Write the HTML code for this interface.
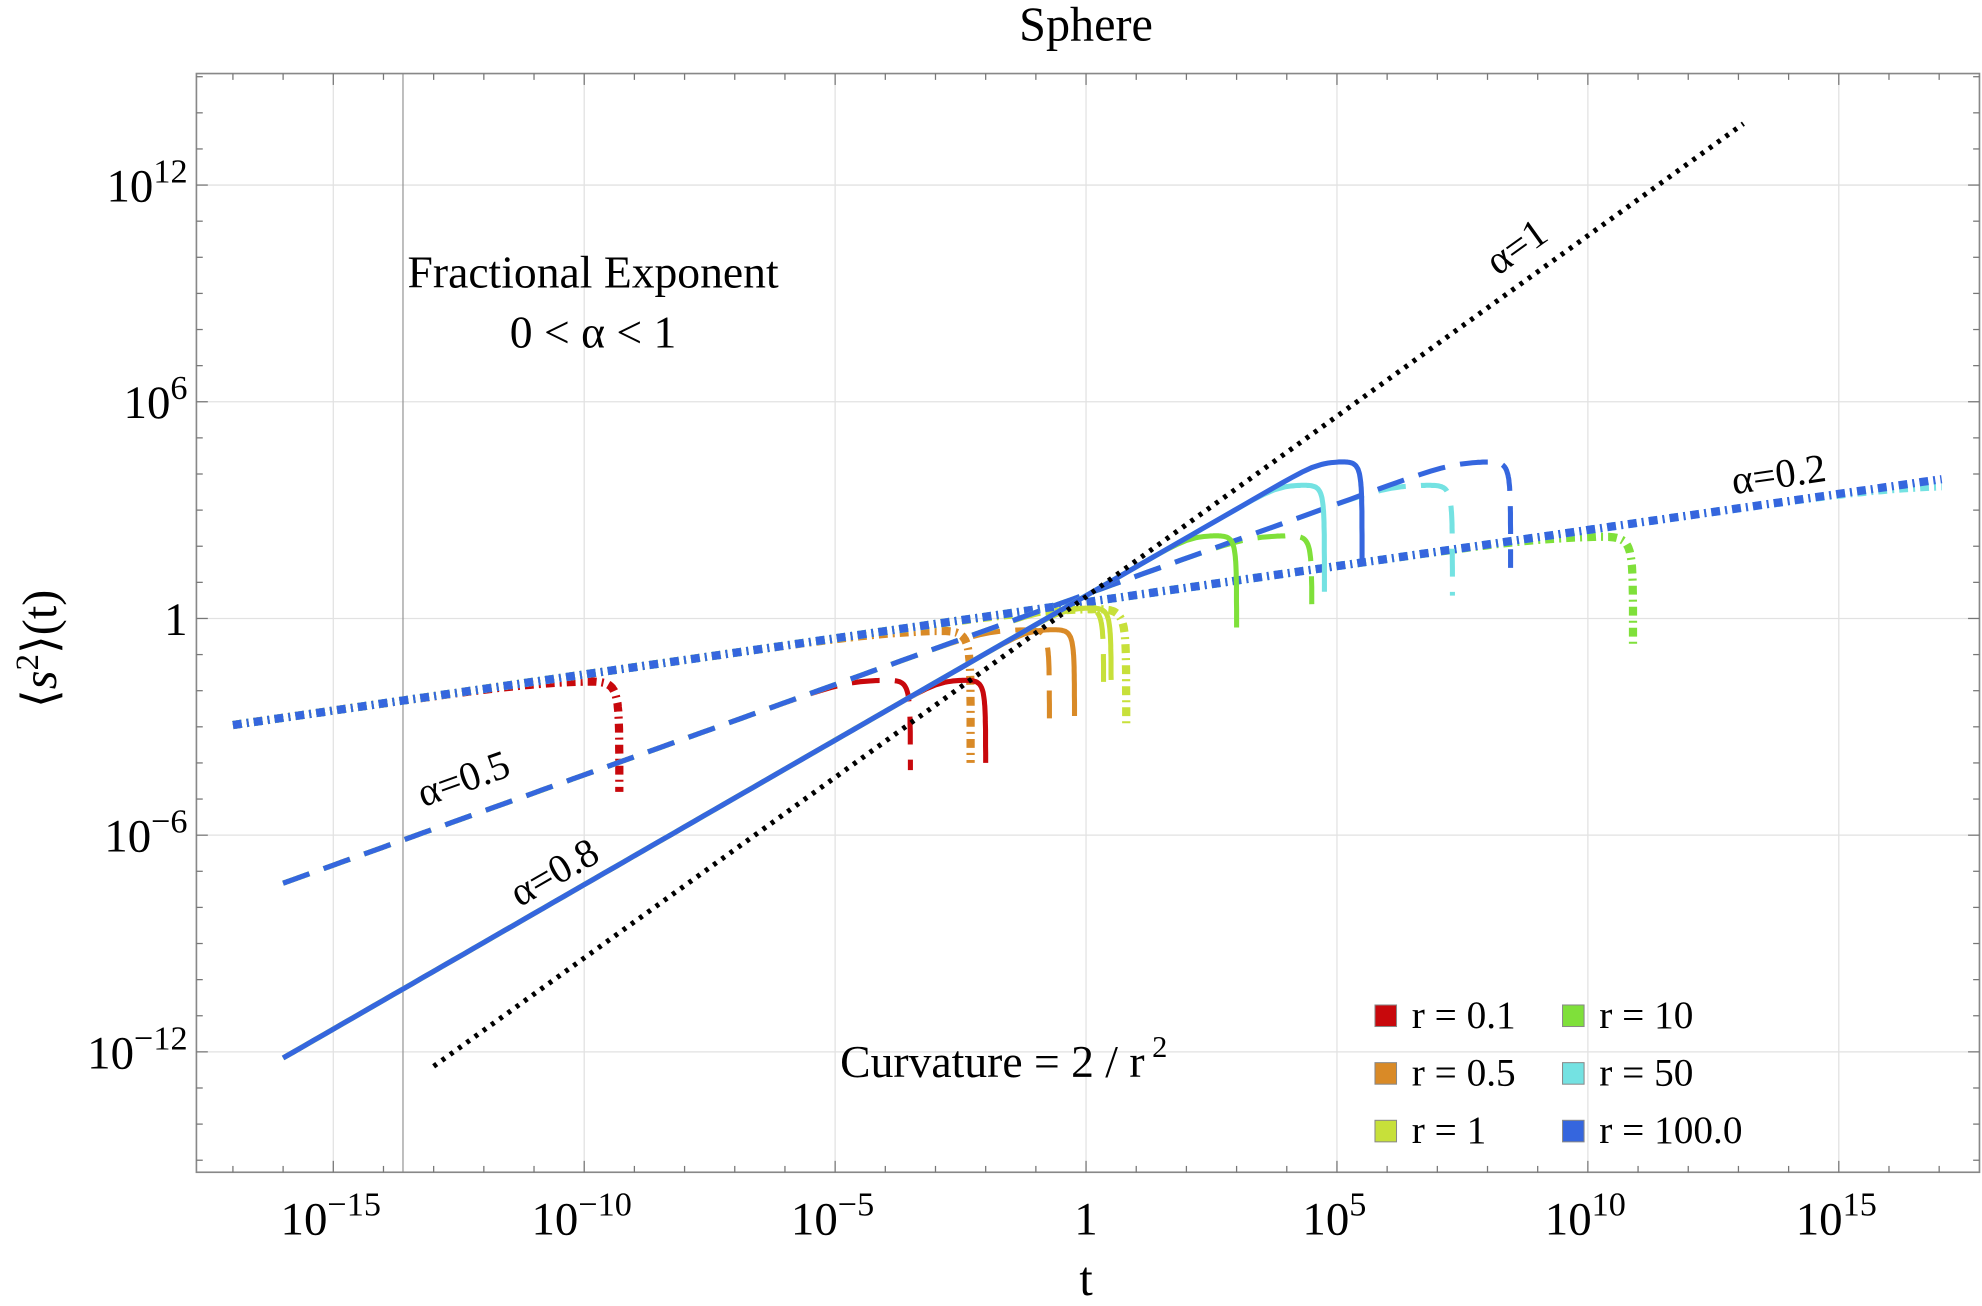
<!DOCTYPE html>
<html><head><meta charset="utf-8">
<style>
html,body{margin:0;padding:0;background:#fff;}
svg{display:block;}
text{font-family:"Liberation Serif","DejaVu Serif",serif;fill:#000;}
</style></head>
<body>
<svg id="chart" width="1982" height="1306" viewBox="0 0 1564 1030.5" xmlns="http://www.w3.org/2000/svg">
  <defs><clipPath id="plotclip"><rect x="155" y="58" width="1407" height="867"/></clipPath></defs>
  <rect x="0" y="0" width="1564" height="1030.5" fill="#fff"/>
  <g id="grid"></g>
  <g id="series" clip-path="url(#plotclip)"></g>
  <rect x="155" y="58" width="1407" height="867" fill="none" stroke="#888" stroke-width="1.3"/>
  <g id="ticks"></g>
  <text x="857" y="32" font-size="38" text-anchor="middle">Sphere</text>
  <text x="857" y="1022" font-size="38" text-anchor="middle">t</text>
  <text transform="translate(44,512) rotate(-90)" font-size="38" text-anchor="middle">⟨<tspan font-style="italic">s</tspan><tspan dy="-14" font-size="26">2</tspan><tspan dy="14">⟩(t)</tspan></text>
  <text x="468" y="227" font-size="36" text-anchor="middle">Fractional Exponent</text>
  <text x="468" y="274" font-size="36" text-anchor="middle">0 &lt; α &lt; 1</text>
  <text x="663" y="850" font-size="36">Curvature = 2 / r<tspan dx="6" dy="-16" font-size="24">2</tspan></text>
  <text font-size="32" transform="translate(1182,218) rotate(-35.7)">α=1</text>
  <text font-size="32" transform="translate(410,716) rotate(-29.9)">α=0.8</text>
  <text font-size="32" transform="translate(334,637) rotate(-19.8)">α=0.5</text>
  <text font-size="32" transform="translate(1368,390) rotate(-8.2)">α=0.2</text>
  <g id="legend"></g>
</svg>
<script>
const xTickLogs = [-15,-10,-5,0,5,10,15];
const xTickLabels = [["10","−15"],["10","−10"],["10","−5"],["1",""],["10","5"],["10","10"],["10","15"]];
const yTickLogs = [12,6,0,-6,-12];
const yTickLabels = [["10","12"],["10","6"],["1",""],["10","−6"],["10","−12"]];
const alphas = [0.2,0.5,0.8];
const alphaIntercepts = [0.45,0.67,0.63];
const alphaStarts = [-17.0,-16.0,-16.0];
const alphaEnds = [17.05,17.05,17.05];
const rValues = ["0.1","0.5","1","10","50","100.0"];
const rColors = ["#c8080c","#d98a27","#c7e03a","#7fe03a","#74e2e2","#3566de"];
const plateaus = [-1.7,-0.3,0.3,2.3,3.7,4.35];
const dropT02 = [-9.3,-2.3,0.8,10.9,18.0,30.0];
const dropT05 = [-3.5,-0.73,0.35,4.5,7.3,8.46];
const dropT08 = [-2.0,-0.23,0.5,3.0,4.75,5.5];
const bottom02 = [-4.8,-4.0,-3.0,-0.8,0.0,0.0];
const bottom05 = [-4.2,-2.9,-2.0,0.2,0.63,1.4];
const bottom08 = [-4.0,-2.7,-1.7,-0.25,0.74,1.5];
const refLine = [-13.0,13.1]; const refIntercept = 0.6;

var NS="http://www.w3.org/2000/svg";
function xs(lt){ return 857 + 39.6*lt; }
function ys(ly){ return 488 - 28.5*ly; }
function mk(tag, attrs, parent){var e=document.createElementNS(NS,tag);for(var k in attrs)e.setAttribute(k,attrs[k]);parent.appendChild(e);return e;}

var grid=document.getElementById('grid'), ticks=document.getElementById('ticks');
xTickLogs.forEach(function(v,i){
  var g=mk('line',{x1:xs(v),x2:xs(v),y1:58,y2:925,stroke:'#e2e2e2','stroke-width':1},grid);
  
  
  var t=mk('text',{x:xs(v)+(xTickLabels[i][1]?-2:0),y:974,'font-size':37,'text-anchor':'middle'},ticks);
  
  
  t.textContent=xTickLabels[i][0];
  if(xTickLabels[i][1]){var s=mk('tspan',{dy:-15,'font-size':27},t);s.textContent=xTickLabels[i][1];}
});
yTickLogs.forEach(function(v,i){
  var g=mk('line',{x1:155,x2:1562,y1:ys(v),y2:ys(v),stroke:'#e2e2e2','stroke-width':1},grid);
  
  
  var t=mk('text',{x:148,y:ys(v)+13,'font-size':37,'text-anchor':'end'},ticks);
  
  
  t.textContent=yTickLabels[i][0];
  if(yTickLabels[i][1]){var s=mk('tspan',{dy:-15,'font-size':27},t);s.textContent=yTickLabels[i][1];}
});
var vl=mk('line',{x1:318,x2:318,y1:58,y2:925,stroke:'#999','stroke-width':1},grid);


for(var d=-17; d<=17; d++){
  var L=(d%5===0)?9:5;
  var tk=mk('line',{x1:xs(d),x2:xs(d),y1:925,y2:925-L,stroke:'#777','stroke-width':1},ticks);
  
  
  var tk2=mk('line',{x1:xs(d),x2:xs(d),y1:58,y2:58+L,stroke:'#777','stroke-width':1},ticks);
  
  
}
for(var d2=-15; d2<=15; d2++){
  var L2=(d2%6===0)?9:5;
  var tk3=mk('line',{x1:155,x2:155+L2,y1:ys(d2),y2:ys(d2),stroke:'#777','stroke-width':1},ticks);
  
  
  var tk4=mk('line',{x1:1562,x2:1562-L2,y1:ys(d2),y2:ys(d2),stroke:'#777','stroke-width':1},ticks);
  
  
}

var series=document.getElementById('series');
var strokeWidths=[6.5,4,4];
var dashes=['7,4,1.6,4','22,12',null];
var sharp=[3,4.5,5];
var dropTs=[dropT02,dropT05,dropT08], bottoms=[bottom02,bottom05,bottom08];
function smin(a,b){return -Math.log10(Math.pow(10,-a*3)+Math.pow(10,-b*3))/3;}
function curveVal(ai,ri,lt){
  var td=dropTs[ai][ri];
  var base=smin(alphaIntercepts[ai]+alphas[ai]*lt,plateaus[ri]);
  var f=1-Math.pow(10,(lt-td)*sharp[ai]);
  if(f<1e-12) f=1e-12;
  return base+Math.log10(f);
}
function buildPoints(ai,ri){
  var td=dropTs[ai][ri], bot=bottoms[ai][ri];
  var start=alphaStarts[ai];
  var end=Math.min(td-0.00001,alphaEnds[ai]);
  var coarseEnd=Math.min(end, td-0.8);
  var out=[];
  var nC=Math.max(2,Math.ceil((coarseEnd-start)/0.2));
  for(var k=0;k<=nC;k++){
    var lt=start+(coarseEnd-start)*k/nC;
    out.push(xs(lt).toFixed(1)+','+ys(curveVal(ai,ri,lt)).toFixed(1));
  }
  if(end>coarseEnd){
    for(var j=1;j<=60;j++){
      var u=j/60;
      var lt2=td-(td-coarseEnd)*Math.pow(1-u,3)-0.00001;
      if(lt2>end) lt2=end;
      var v=curveVal(ai,ri,lt2);
      if(v<=bot){ out.push(xs(lt2).toFixed(1)+','+ys(bot).toFixed(1)); break; }
      out.push(xs(lt2).toFixed(1)+','+ys(v).toFixed(1));
      if(lt2>=end) break;
    }
  }
  return out.join(' ');
}
for(var ai=0; ai<alphas.length; ai++){
  for(var ri=0; ri<rValues.length; ri++){
    var pl=document.createElementNS(NS,'polyline');
    pl.setAttribute('points',buildPoints(ai,ri));
    pl.setAttribute('fill','none');
    pl.setAttribute('stroke',rColors[ri]);
    pl.setAttribute('stroke-width',strokeWidths[ai]);
    if(dashes[ai]) pl.setAttribute('stroke-dasharray',dashes[ai]);
    
    
    series.appendChild(pl);
  }
}
var ref=mk('line',{x1:xs(refLine[0]),y1:ys(refLine[0]+refIntercept),x2:xs(refLine[1]),y2:ys(refLine[1]+refIntercept),stroke:'#000','stroke-width':4,'stroke-dasharray':'3,5'},series);



var legend=document.getElementById('legend');
rValues.forEach(function(r,i){
  var col=Math.floor(i/3), row=i%3;
  var x=1085+col*148, y=793+row*45.5;
  var sw=mk('rect',{x:x,y:y,width:17,height:17,fill:rColors[i],stroke:'#888','stroke-width':0.8},legend);
  
  
  var t=mk('text',{x:x+29,y:y+18,'font-size':31},legend);
  
  
  t.textContent='r = '+r;
});
</script>
</body></html>
